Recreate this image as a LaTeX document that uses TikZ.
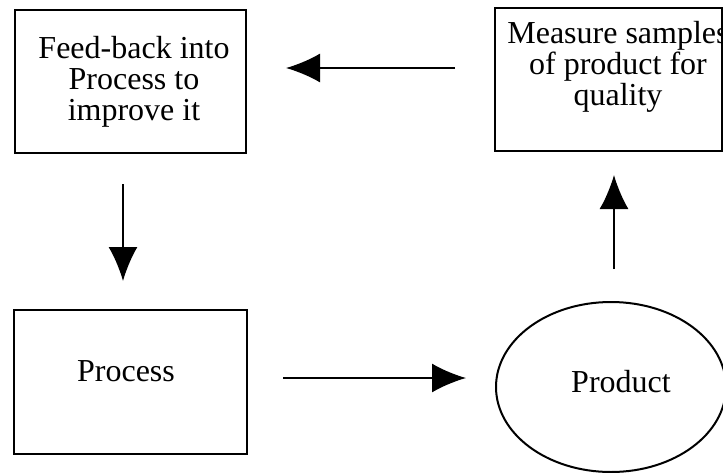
\documentclass[tikz,border=0pt]{standalone}
\usepackage{fontspec}
\setmainfont{Liberation Serif}
\usetikzlibrary{arrows.meta,shapes.geometric,calc}
\begin{document}
\begin{tikzpicture}[x=1pt,y=-1pt,
  box/.style={draw,line width=2pt,rectangle,inner sep=0pt},
  oval/.style={draw,line width=2pt,ellipse,inner sep=0pt},
  txt/.style={font=\fontsize{32}{31}\selectfont,align=center,inner sep=0pt},
  arr/.style={line width=1.8pt,-{Latex[length=34pt,width=29pt]}}]
\useasboundingbox (0,0) rectangle (723,472);
\node[box,minimum width=231pt,minimum height=143pt] (fb) at (130.5,81.5) {};
\node[box,minimum width=227pt,minimum height=143pt] (ms) at (608.5,79.5) {};
\node[box,minimum width=233pt,minimum height=144pt] (proc) at (130.5,382) {};
\node[oval,minimum width=230pt,minimum height=170pt] (prod) at (611,387) {};
\node[txt] (fbt) at (134,82) {Feed-back into\\Process to\\improve it};
\node[txt] (mst) at (618,67) {Measure samples\\of product for\\quality};
\node[txt,anchor=base] (proct) at (126,381) {Process};
\node[txt,anchor=base] (prodt) at (621,392) {Product};
\draw[arr] ($(fb.south)+(-7.5,30)$) -- ($(proc.north)+(-7.5,-28)$);
\draw[arr] ($(proc.east)+(35,-4)$) -- ($(prod.west)+(-29,-9)$);
\draw[arr] ($(prod.north)+(3,-32)$) -- ($(ms.south)+(5.5,23)$);
\draw[arr] ($(ms.west)+(-39,-11.5)$) -- ($(fb.east)+(39,-13.5)$);
\end{tikzpicture}
\end{document}
